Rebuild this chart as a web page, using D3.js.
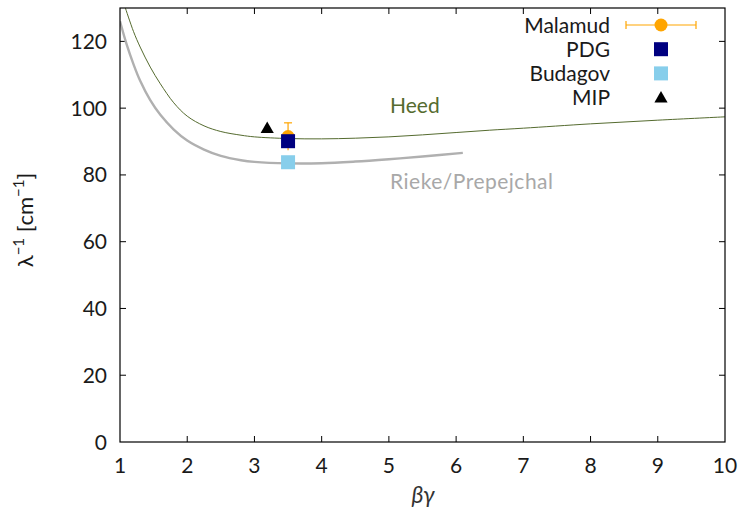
<!DOCTYPE html>
<html><head><meta charset="utf-8">
<script src="https://cdn.jsdelivr.net/npm/d3@7"></script>
<style>
body{margin:0;background:#fff;}
text{font-family:Lato,"DejaVu Sans",sans-serif;}
</style></head>
<body><svg id="c" width="741" height="512"></svg>
<script>
// Data
const heedX = [1.08,1.2,1.3,1.45,1.6,1.8,2.0,2.25,2.5,2.8,3.0,3.5,4.0,4.5,5.0,5.5,6.0,6.5,7.0,8.0,9.0,10.0];
const heedY = [130,123,118.3,112.3,107.3,101.6,97.6,94.7,93.0,91.9,91.4,90.9,90.8,91.0,91.4,92.0,92.7,93.4,94.0,95.3,96.4,97.4];
const riekeX = [1.0,1.1,1.2,1.3,1.45,1.6,1.8,2.0,2.25,2.5,2.8,3.0,3.5,4.0,4.5,5.0,5.5,6.1];
const riekeY = [126,119,113.2,108.2,102.4,98.0,93.6,90.3,87.6,85.7,84.4,83.9,83.45,83.5,84.0,84.7,85.5,86.6];
const malamud = {x:3.5, y:91.5, err:4.1};
const pdg = {x:3.5, y:90.1};
const budagov = {x:3.5, y:83.8};
const mip = {x:3.19, y:94.0};
const xTicks = [1,2,3,4,5,6,7,8,9,10];
const yTicks = [0,20,40,60,80,100,120];
const legendNames = ["Malamud","PDG","Budagov","MIP"];

const svg = d3.select("#c");
const L=120, R=725, T=8, B=442;
const x = d3.scaleLinear().domain([1,10]).range([L,R]);
const y = d3.scaleLinear().domain([0,130]).range([B,T]);

const fs = 21;
svg.append("clipPath").attr("id","clip").append("rect").attr("x",L).attr("y",T).attr("width",R-L).attr("height",B-T);

const tl = 6;
const g = svg.append("g");
xTicks.forEach(v=>{
  if(v>1 && v<10){
  g.append("line").attr("x1",x(v)).attr("x2",x(v)).attr("y1",B).attr("y2",B-tl).attr("stroke","#000");
  g.append("line").attr("x1",x(v)).attr("x2",x(v)).attr("y1",T).attr("y2",T+tl).attr("stroke","#000");}
  g.append("text").attr("x",x(v)).attr("y",B+31).attr("text-anchor","middle").attr("font-size",fs).attr("fill","#1a1a1a").text(v);
});
yTicks.forEach(v=>{
  if(v>0){
  g.append("line").attr("x1",L).attr("x2",L+tl).attr("y1",y(v)).attr("y2",y(v)).attr("stroke","#000");
  g.append("line").attr("x1",R).attr("x2",R-tl).attr("y1",y(v)).attr("y2",y(v)).attr("stroke","#000");}
  g.append("text").attr("x",L-13).attr("y",y(v)+7.5).attr("text-anchor","end").attr("font-size",fs).attr("fill","#1a1a1a").text(v);
});

const line = d3.line().x(d=>x(d[0])).y(d=>y(d[1])).curve(d3.curveCatmullRom);
const plot = svg.append("g").attr("clip-path","url(#clip)");
plot.append("path").datum(riekeX.map((v,i)=>[v,riekeY[i]])).attr("d",line)
  .attr("fill","none").attr("stroke","#b0b0b0").attr("stroke-width",2.4);
plot.append("path").datum(heedX.map((v,i)=>[v,heedY[i]])).attr("d",line)
  .attr("fill","none").attr("stroke","#556b2f").attr("stroke-width",1);

svg.append("text").attr("x",390).attr("y",113).attr("font-size",fs).attr("fill","#556b2f").text("Heed");
svg.append("text").attr("x",390).attr("y",189).attr("font-size",fs).attr("fill","#a8a8a8").attr("textLength",163).text("Rieke/Prepejchal");

const orange="#ffa500", navy="#000080", sky="#87ceeb";
const sq=14;
plot.append("line").attr("x1",x(malamud.x)).attr("x2",x(malamud.x)).attr("y1",y(malamud.y-malamud.err)).attr("y2",y(malamud.y+malamud.err)).attr("stroke",orange).attr("stroke-width",1.2);
plot.append("line").attr("x1",x(malamud.x)-4).attr("x2",x(malamud.x)+4).attr("y1",y(malamud.y+malamud.err)).attr("y2",y(malamud.y+malamud.err)).attr("stroke",orange).attr("stroke-width",1.2);
plot.append("circle").attr("cx",x(malamud.x)).attr("cy",y(malamud.y)).attr("r",6.5).attr("fill",orange);
plot.append("rect").attr("x",x(pdg.x)-sq/2).attr("y",y(pdg.y)-sq/2).attr("width",sq).attr("height",sq).attr("fill",navy);
plot.append("rect").attr("x",x(budagov.x)-sq/2).attr("y",y(budagov.y)-sq/2).attr("width",sq).attr("height",sq).attr("fill",sky);
const tri = d3.symbol().type(d3.symbolTriangle).size(75);
plot.append("path").attr("d",tri()).attr("transform",`translate(${x(mip.x)},${y(mip.y)+1})`).attr("fill","#000");

const lx=610, ly0=25, ldy=24.2, sx=661;
legendNames.forEach((n,i)=>{
  svg.append("text").attr("x",lx).attr("y",ly0+i*ldy+7.5).attr("text-anchor","end").attr("font-size",fs).attr("fill","#1a1a1a").text(n);
});
let cy=ly0;
svg.append("line").attr("x1",626).attr("x2",696).attr("y1",cy).attr("y2",cy).attr("stroke",orange).attr("stroke-width",1.2);
[626,696].forEach(px=>svg.append("line").attr("x1",px).attr("x2",px).attr("y1",cy-4).attr("y2",cy+4).attr("stroke",orange).attr("stroke-width",1.2));
svg.append("circle").attr("cx",sx).attr("cy",cy).attr("r",6.5).attr("fill",orange);
svg.append("rect").attr("x",sx-7).attr("y",ly0+ldy-7).attr("width",14).attr("height",14).attr("fill",navy);
svg.append("rect").attr("x",sx-7).attr("y",ly0+2*ldy-7).attr("width",14).attr("height",14).attr("fill",sky);
svg.append("path").attr("d",tri()).attr("transform",`translate(${sx},${ly0+3*ldy+1})`).attr("fill","#000");

svg.append("rect").attr("x",L).attr("y",T).attr("width",R-L).attr("height",B-T).attr("fill","none").attr("stroke","#000").attr("stroke-width",1.2);

svg.append("text").attr("x",423).attr("y",503).attr("text-anchor","middle").attr("font-size",23).attr("font-style","italic").attr("font-family","'DejaVu Serif',serif").attr("fill","#333").text("βγ");
const yl = svg.append("text").attr("transform","translate(33,220) rotate(-90)").attr("text-anchor","middle").attr("font-size",22).attr("fill","#1a1a1a");
yl.append("tspan").text("λ");
yl.append("tspan").attr("dy",-9).attr("font-size",15).text("−1");
yl.append("tspan").attr("dy",9).text(" [cm");
yl.append("tspan").attr("dy",-9).attr("font-size",15).text("−1");
yl.append("tspan").attr("dy",9).text("]");
</script></body></html>
